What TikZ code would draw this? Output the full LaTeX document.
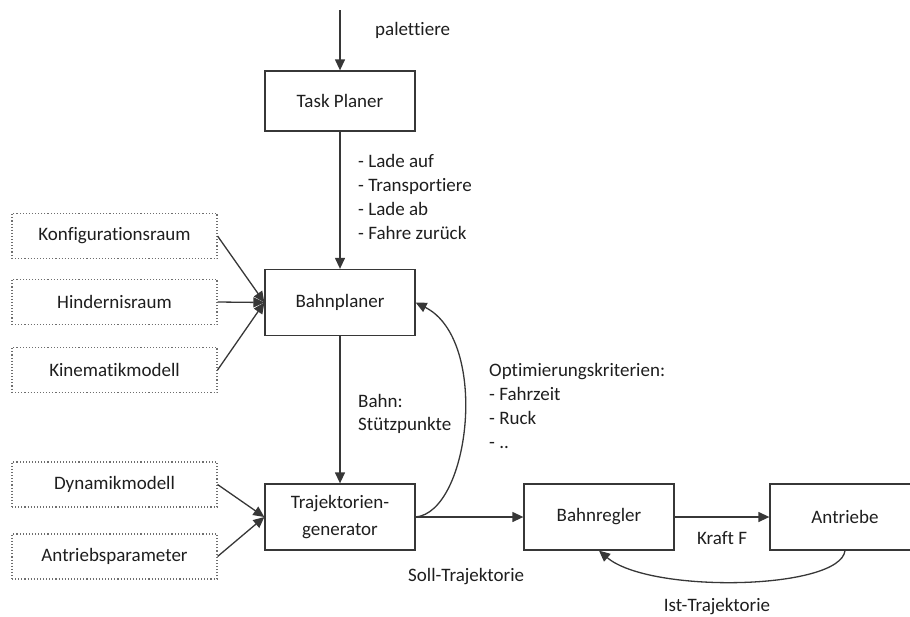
\documentclass[tikz,border=0pt]{standalone}
\usepackage{fontspec}
\setmainfont{Carlito}[Ligatures=NoCommon]
\usetikzlibrary{arrows.meta}
\definecolor{txt}{RGB}{30,30,30}
\definecolor{ln}{RGB}{55,55,55}
\definecolor{dotln}{RGB}{110,110,110}
\tikzset{
  blk/.style={draw=ln, line width=1.3pt, minimum width=150pt, minimum height=66pt, inner sep=0pt, align=center, text=txt, font=\fontsize{19}{27}\selectfont},
  src/.style={draw=dotln, line width=1.1pt, dotted, minimum width=205pt, minimum height=45pt, inner sep=0pt, text=txt, font=\fontsize{19}{23}\selectfont},
  lbl/.style={inner sep=0pt, align=left, text=txt, font=\fontsize{19}{24}\selectfont, anchor=base west},
  conn/.style={draw=ln, line width=1.3pt, -{Triangle[length=11pt,width=10pt]}},
}
\begin{document}
\begin{tikzpicture}[x=1pt,y=-1pt]
\useasboundingbox (0,0) rectangle (910,616);
% main blocks
\node[blk, minimum height=60pt] (task) at (340,101) {Task Planer};
\node[blk] (bahnpl) at (340,302.5) {Bahnplaner};
\node[blk] (traj) at (340,517) {Trajektorien-\\generator};
\node[blk] (regler) at (599,517) {Bahnregler};
\node[blk] (antr) at (845,517) {Antriebe};
% source boxes
\node[src] (konf) at (114.5,236) {Konfigurationsraum};
\node[src] (hind) at (114.5,302) {Hindernisraum};
\node[src] (kine) at (114.5,370) {Kinematikmodell};
\node[src] (dyn) at (114.5,484.5) {Dynamikmodell};
\node[src] (antp) at (114.5,556.5) {Antriebsparameter};
% labels (multi-line: base = last line's baseline)
\coordinate (in) at (340,10);
\node[lbl] (lpal) at (375,35) {palettiere};
\node[lbl] (ltask) at (358,239) {- Lade auf\\- Transportiere\\- Lade ab\\- Fahre zurück};
\node[lbl, font=\fontsize{19}{23}\selectfont] (lbahn) at (358,430) {Bahn:\\Stützpunkte};
\node[lbl] (lopt) at (489,448) {Optimierungskriterien:\\- Fahrzeit\\- Ruck\\- ..};
\node[lbl] (lsoll) at (408,581) {Soll-Trajektorie};
\node[lbl, anchor=base] (lkraft) at (722,544) {Kraft F};
\node[lbl, anchor=base] (list) at (717,611) {Ist-Trajektorie};
% connectors
\draw[conn] (in) -- (task.north);
\draw[conn] (task.south) -- (bahnpl.north);
\draw[conn] (bahnpl.south) -- (traj.north);
\draw[conn] (konf.east) -- (bahnpl.west);
\draw[conn] (hind.east) -- (bahnpl.west);
\draw[conn] (kine.east) -- (bahnpl.west);
\draw[conn] (dyn.east) -- (traj.west);
\draw[conn] (antp.east) -- (traj.west);
\draw[conn] (traj.east) .. controls (470,512) and (490,340) .. (bahnpl.east);
\draw[conn] (traj.east) -- (regler.west);
\draw[conn] (regler.east) -- (antr.west);
\draw[conn] (antr.south) .. controls (840,590) and (650,594) .. (regler.south);
\end{tikzpicture}
\end{document}
